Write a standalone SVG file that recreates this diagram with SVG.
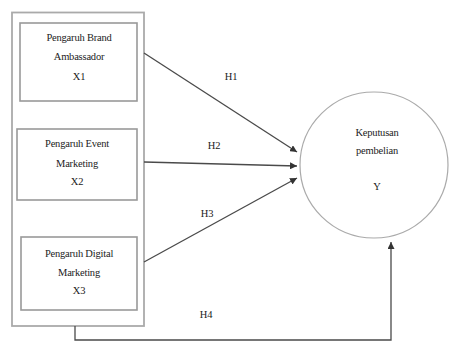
<svg xmlns="http://www.w3.org/2000/svg" width="450" height="342" viewBox="0 0 450 342">
<defs>
<style>
.box{fill:#fff;stroke:#999;stroke-width:1.6}
.outer{fill:#fff;stroke:#aaa;stroke-width:1.8}
.t{font-family:"Liberation Serif","Times New Roman",serif;font-size:10.5px;fill:#222;text-anchor:middle;letter-spacing:-0.2px}
.c{fill:none;stroke:#4a4a4a;stroke-width:1.3}
</style>
<marker id="ah" viewBox="0 0 10 10" refX="10" refY="5" markerWidth="7" markerHeight="7" orient="auto" markerUnits="userSpaceOnUse">
<path d="M0,0 L10,5 L0,10 z" fill="#333"/>
</marker>
</defs>
<rect width="450" height="342" fill="#fff"/>
<g id="outer"><rect class="outer" x="12" y="12.5" width="132" height="313.5"/></g>
<g id="x1">
<rect class="box" x="20" y="23" width="117" height="78"/>
<text class="t" x="79" y="41">Pengaruh Brand</text>
<text class="t" x="79" y="60">Ambassador</text>
<text class="t" x="79" y="80">X1</text>
</g>
<g id="x2">
<rect class="box" x="17" y="129" width="120" height="71"/>
<text class="t" x="77" y="147">Pengaruh Event</text>
<text class="t" x="77" y="167">Marketing</text>
<text class="t" x="77" y="185">X2</text>
</g>
<g id="x3">
<rect class="box" x="21" y="237" width="116" height="73"/>
<text class="t" x="79" y="257">Pengaruh Digital</text>
<text class="t" x="79" y="276">Marketing</text>
<text class="t" x="79" y="294">X3</text>
</g>
<g id="y">
<ellipse cx="374" cy="165" rx="74" ry="73" fill="#fff" stroke="#aaa" stroke-width="1.2"/>
<text class="t" x="377" y="136">Keputusan</text>
<text class="t" x="377" y="154">pembelian</text>
<text class="t" x="377" y="190">Y</text>
</g>
<g id="connectors">
<line class="c" x1="144" y1="53" x2="297" y2="152" marker-end="url(#ah)"/>
<line class="c" x1="144" y1="162" x2="297" y2="166" marker-end="url(#ah)"/>
<line class="c" x1="144" y1="262" x2="297" y2="178" marker-end="url(#ah)"/>
<polyline class="c" points="75,326 75,340 391,340 391,242" marker-end="url(#ah)"/>
<text class="t" x="231" y="80">H1</text>
<text class="t" x="214" y="149">H2</text>
<text class="t" x="207" y="217">H3</text>
<text class="t" x="206" y="318">H4</text>
</g>
</svg>
